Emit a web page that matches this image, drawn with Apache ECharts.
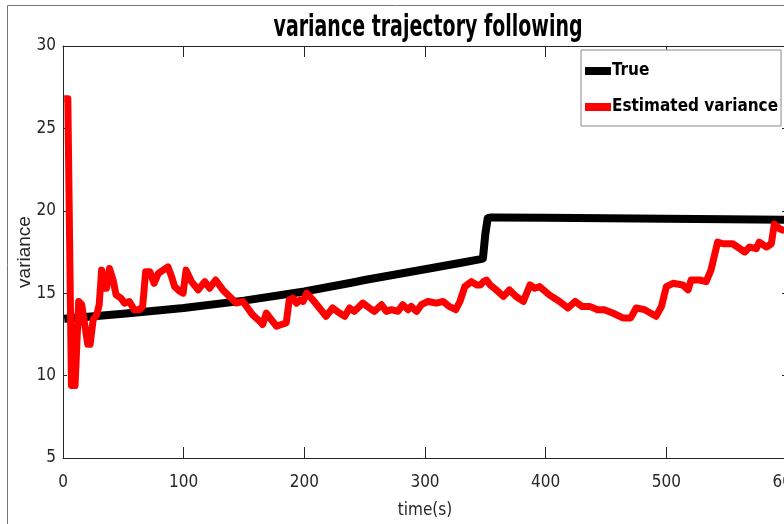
<!DOCTYPE html>
<html>
<head>
<meta charset="utf-8">
<script src="https://cdn.jsdelivr.net/npm/echarts@6/dist/echarts.min.js"></script>
<style>
html,body{margin:0;padding:0;background:#fff;}
#chart{width:784px;height:524px;}
</style>
</head>
<body>
<div id="chart"></div>
<script>
var titleText = 'variance trajectory following';
var seriesNames = ['True', 'Estimated variance'];
var xTicks = [0, 100, 200, 300, 400, 500, 600];
var yTicks = [5, 10, 15, 20, 25, 30];

var trueT = [1, 50, 100, 150, 200, 240, 250, 300, 330, 345, 348, 350, 352, 355, 400, 450, 500, 550, 600];
var trueV = [13.45, 13.75, 14.1, 14.55, 15.1, 15.65, 15.8, 16.45, 16.85, 17.05, 17.1, 18.6, 19.55, 19.6, 19.58, 19.55, 19.52, 19.48, 19.45];

var estT = [1, 4, 7, 10, 13, 15.5, 20.5, 22.5, 25, 28, 30, 32, 34, 36, 38.5, 41.5, 44, 48, 51, 55, 59, 63.5, 66, 68.5, 72, 75.5, 79, 83, 87, 90, 92.5, 97, 99.5, 102, 106.5, 112, 117.5, 121.5, 126.5, 132.5, 138, 143.5, 149, 153, 157, 163, 165.5, 168.5, 172.5, 177, 181, 185, 187.5, 190.5, 193.5, 196.5, 199, 202, 207, 212.5, 218, 223.5, 229, 233.5, 237.5, 241.5, 248.5, 254, 258, 264, 268, 272, 277.5, 281.5, 286, 288.5, 293, 297, 302.5, 309.5, 315, 320, 325.5, 329, 333, 338.5, 343, 346, 348.5, 351, 354, 359, 365, 370, 375.5, 381.5, 387, 391, 395, 403, 411.5, 418.5, 424.5, 430, 436.5, 443, 448.5, 455.5, 464, 470.5, 475, 482, 491.5, 496, 500, 505.5, 513.5, 518, 520.5, 527.5, 533, 537, 542.5, 547, 555, 565, 569, 574.5, 577, 583, 587, 589.5, 594, 598];
var estV = [26.8, 26.8, 9.4, 9.4, 14.5, 14.3, 11.9, 11.9, 13.4, 13.7, 14.3, 16.4, 15.3, 15.3, 16.5, 15.8, 14.9, 14.7, 14.4, 14.5, 14.0, 14.0, 14.2, 16.3, 16.3, 15.6, 16.2, 16.4, 16.6, 16.0, 15.4, 15.1, 15.0, 16.4, 15.7, 15.2, 15.7, 15.3, 15.8, 15.2, 14.8, 14.4, 14.5, 14.1, 13.7, 13.3, 13.1, 13.8, 13.4, 13.0, 13.1, 13.2, 14.6, 14.7, 14.4, 14.6, 14.5, 15.0, 14.6, 14.1, 13.6, 14.1, 13.8, 13.6, 14.1, 13.9, 14.4, 14.1, 13.9, 14.3, 13.9, 14.0, 13.9, 14.3, 14.0, 14.2, 13.9, 14.3, 14.5, 14.4, 14.5, 14.2, 14.0, 14.5, 15.4, 15.7, 15.5, 15.5, 15.7, 15.8, 15.5, 15.2, 14.8, 15.2, 14.8, 14.5, 15.5, 15.3, 15.4, 14.9, 14.5, 14.1, 14.5, 14.2, 14.2, 14.0, 14.0, 13.8, 13.5, 13.5, 14.1, 14.0, 13.6, 14.2, 15.4, 15.6, 15.5, 15.2, 15.8, 15.8, 15.7, 16.4, 18.1, 18.0, 18.0, 17.5, 17.8, 17.7, 18.1, 17.8, 18.0, 19.2, 18.9, 18.8];

function zip(a, b) { return a.map(function (v, i) { return [v, b[i]]; }); }

var FONT = '"DejaVu Sans Condensed", "DejaVu Sans", sans-serif';
var AX = '#262626';

// horizontal squeeze so the condensed font approximates the narrow title face
var titleFont = 'bold 30px "DejaVu Sans Condensed", "DejaVu Sans", sans-serif';
var ctx = document.createElement('canvas').getContext('2d');
ctx.font = titleFont;
var titleW = ctx.measureText(titleText).width || 420;
var titleScale = 309 / titleW;

var chart = echarts.init(document.getElementById('chart'), null, {renderer: 'canvas'});
chart.setOption({
  animation: false,
  backgroundColor: '#fff',
  legend: {
    left: 581, top: 50,
    orient: 'vertical',
    padding: [11, 3, 9, 4],
    itemWidth: 26, itemHeight: 8, itemGap: 16,
    backgroundColor: '#fff',
    borderColor: '#888', borderWidth: 1,
    textStyle: {fontFamily: FONT, fontWeight: 'bold', fontSize: 17, lineHeight: 20, color: '#000', padding: [0, 0, 0, -4]},
    data: [{name: seriesNames[0], icon: 'rect'}, {name: seriesNames[1], icon: 'rect'}]
  },
  grid: {left: 63, width: 724, top: 46, height: 412, outerBoundsMode: 'none', containLabel: false},
  xAxis: [{
    type: 'value', min: xTicks[0], max: xTicks[xTicks.length - 1], interval: 100,
    name: 'time(s)', nameLocation: 'middle', nameGap: 44, nameMoveOverlap: false,
    nameTextStyle: {fontFamily: FONT, fontSize: 17, color: AX},
    axisLine: {onZero: false, lineStyle: {color: AX, width: 1}},
    axisTick: {inside: true, length: 11, lineStyle: {color: AX}},
    axisLabel: {fontFamily: FONT, fontSize: 17, color: AX, margin: 16},
    splitLine: {show: false}
  }, {
    type: 'value', position: 'top', min: 0, max: 600, interval: 100,
    axisLine: {onZero: false, lineStyle: {color: AX, width: 1}},
    axisTick: {inside: true, length: 11, lineStyle: {color: AX}},
    axisLabel: {show: false}, splitLine: {show: false}
  }],
  yAxis: [{
    type: 'value', min: yTicks[0], max: yTicks[yTicks.length - 1], interval: 5,
    name: 'variance', nameLocation: 'middle', nameGap: 29, nameRotate: 90, nameMoveOverlap: false,
    nameTextStyle: {fontFamily: '"Liberation Sans", sans-serif', fontSize: 19, color: AX},
    axisLine: {onZero: false, lineStyle: {color: AX, width: 1}},
    axisTick: {inside: true, length: 4, lineStyle: {color: AX}},
    axisLabel: {fontFamily: FONT, fontSize: 17, color: AX, margin: 7},
    splitLine: {show: false}
  }, {
    type: 'value', position: 'right', min: 5, max: 30, interval: 5,
    axisLine: {onZero: false, lineStyle: {color: AX, width: 1}},
    axisTick: {inside: true, length: 5, lineStyle: {color: AX}},
    axisLabel: {show: false}, splitLine: {show: false}
  }],
  graphic: [{
    type: 'polyline', silent: true, z: 100,
    shape: {points: [[7.5, 524], [7.5, 5.5], [784, 5.5]]},
    style: {stroke: '#777', lineWidth: 1, fill: null}
  }, {
    type: 'text', silent: true, z: 100,
    x: 428, y: 28, scaleX: titleScale, scaleY: 1,
    style: {
      text: titleText, x: 0, y: 0,
      align: 'center', verticalAlign: 'middle',
      textAlign: 'center', textVerticalAlign: 'middle',
      font: titleFont, fill: '#000'
    }
  }],
  series: [{
    name: seriesNames[0], type: 'line', data: zip(trueT, trueV),
    showSymbol: false, smooth: false, color: '#000',
    lineStyle: {color: '#000', width: 8, join: 'round', cap: 'butt'}
  }, {
    name: seriesNames[1], type: 'line', data: zip(estT, estV),
    showSymbol: false, smooth: false, color: '#ff0000',
    lineStyle: {color: '#ff0000', width: 7, join: 'round'}
  }]
});
</script>
</body>
</html>
